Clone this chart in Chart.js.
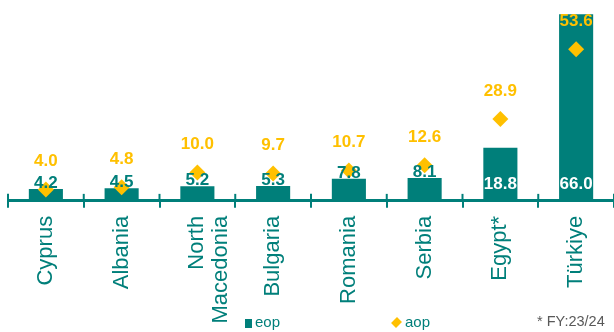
<!DOCTYPE html>
<html><head><meta charset="utf-8">
<script src="https://cdn.jsdelivr.net/npm/chart.js@4/dist/chart.umd.min.js"></script>
<style>
html,body{margin:0;padding:0;background:#fff;}
#wrap{position:relative;width:614px;height:332px;overflow:hidden;}
canvas{position:absolute;left:0;top:0;}
.leg{position:absolute;font:15px "Liberation Sans",Arial,sans-serif;color:#007F7A;white-space:nowrap;line-height:16px;}
.sq{display:inline-block;width:7px;height:9px;background:#007F7A;margin-right:3px;vertical-align:-1px;}
.dm{display:inline-block;width:7px;height:7px;background:#FFC000;transform:rotate(45deg) scaleY(1.2);margin-right:5px;margin-left:1px;vertical-align:1px;}
#note{position:absolute;left:537px;top:313px;font:14.5px "Liberation Sans",Arial,sans-serif;color:#595959;white-space:nowrap;}
</style></head><body>
<div id="wrap">
<canvas id="c" width="614" height="332"></canvas>
<div class="leg" style="left:245px;top:314px"><span class="sq"></span>eop</div>
<div class="leg" style="left:392px;top:314px"><span class="dm"></span>aop</div>
<div id="note">* FY:23/24</div>
</div>
<script>
const categories = ["Cyprus", "Albania", ["North", "Macedonia"], "Bulgaria", "Romania", "Serbia", "Egypt*", "Türkiye"];
const eop = [4.2, 4.5, 5.2, 5.3, 7.8, 8.1, 18.8, 66.0];
const aop = [4.0, 4.8, 10.0, 9.7, 10.7, 12.6, 28.9, 53.6];
const seriesNames = ["eop", "aop"];

const TEAL = "#007F7A";
const GOLD = "#FFC000";
const VALFONT = 'bold 17px "Liberation Sans Narrow","Arial Narrow","Liberation Sans",Arial,sans-serif';

const valueLabels = {
  id: "valueLabels",
  afterDatasetsDraw(chart) {
    const ctx = chart.ctx;
    const base = chart.scales.y.getPixelForValue(0);
    const bars = chart.getDatasetMeta(0).data;
    const pts = chart.getDatasetMeta(1).data;
    ctx.save();
    ctx.font = VALFONT;
    ctx.textAlign = "center";
    ctx.textBaseline = "alphabetic";
    bars.forEach((b, i) => {
      const v = eop[i];
      if (v > 15) { ctx.fillStyle = "#ffffff"; ctx.fillText(v.toFixed(1), b.x, base - 12); }
      else { ctx.fillStyle = TEAL; ctx.fillText(v.toFixed(1), b.x, b.y - 1); }
    });
    ctx.textBaseline = "middle";
    ctx.fillStyle = GOLD;
    pts.forEach((p, i) => {
      ctx.fillText(aop[i].toFixed(1), p.x, p.y - 28);
    });
    ctx.restore();
  },
  afterDraw(chart) {
    const ctx = chart.ctx;
    const xs = chart.scales.x;
    const base = chart.scales.y.getPixelForValue(0);
    const n = categories.length;
    ctx.save();
    ctx.strokeStyle = TEAL;
    ctx.lineWidth = 2;
    for (let i = 0; i <= n; i++) {
      const x = xs.left + i * (xs.right - xs.left) / n;
      ctx.beginPath();
      ctx.moveTo(x, base - 7);
      ctx.lineTo(x, base);
      ctx.stroke();
    }
    ctx.restore();
  }
};

new Chart(document.getElementById("c"), {
  data: {
    labels: categories,
    datasets: [
      { type: "bar", label: seriesNames[0], data: eop, backgroundColor: TEAL, borderWidth: 0,
        barPercentage: 0.45, categoryPercentage: 1.0, order: 2 },
      { type: "line", label: seriesNames[1], data: aop, showLine: false, pointStyle: "rectRot",
        pointRadius: 8, pointHoverRadius: 8, pointBackgroundColor: GOLD, pointBorderWidth: 0,
        borderColor: GOLD, order: 1, clip: false }
    ]
  },
  options: {
    responsive: false,
    animation: false,
    events: [],
    layout: { autoPadding: false, padding: { left: 8, right: 0, top: 0, bottom: 0.5 } },
    plugins: { legend: { display: false }, tooltip: { enabled: false } },
    scales: {
      x: {
        offset: true,
        grid: { display: true, drawOnChartArea: false, drawTicks: true, tickLength: 7, color: TEAL, lineWidth: 2, offset: true },
        border: { display: true, color: TEAL, width: 3 },
        ticks: { color: TEAL, font: { family: '"Liberation Sans", Arial, sans-serif', size: 22, lineHeight: 1.05 },
                 minRotation: 90, maxRotation: 90, padding: 8, autoSkip: false }
      },
      y: { display: false, min: 0, max: 71 }
    }
  },
  plugins: [valueLabels]
});
</script>
</body></html>
